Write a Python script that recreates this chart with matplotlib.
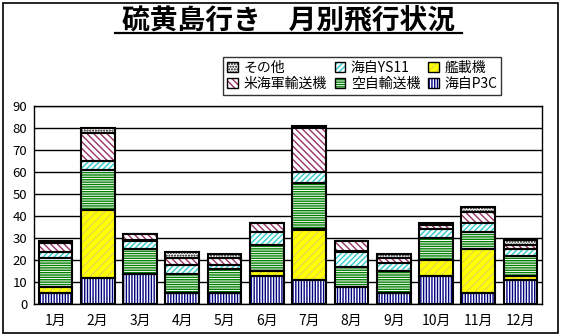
import matplotlib
matplotlib.use("Agg")
import matplotlib.pyplot as plt
import numpy as np
from matplotlib.patches import Patch, Rectangle
from matplotlib.lines import Line2D
from matplotlib.legend_handler import HandlerTuple

plt.rcParams['font.family'] = ['Noto Sans CJK JP', 'DejaVu Sans']
plt.rcParams['hatch.linewidth'] = 1.0

months = ['1月', '2月', '3月', '4月', '5月', '6月', '7月', '8月', '9月', '10月', '11月', '12月']
p3c    = [5, 12, 14, 5, 5, 13, 11, 8, 5, 13, 5, 11]     # 海自P3C
kansai = [3, 31, 0, 0, 0, 2, 23, 0, 0, 7, 20, 2]        # 艦載機
kuji   = [13, 18, 11, 9, 11, 12, 21, 9, 10, 10, 8, 9]   # 空自輸送機
ys11   = [3, 4, 4, 4, 2, 6, 5, 7, 4, 4, 4, 3]           # 海自YS11
beikai = [4, 13, 3, 3, 3, 4, 20, 5, 2, 2, 5, 2]         # 米海軍輸送機
sonota = [1, 2, 0, 3, 2, 0, 1, 0, 2, 1, 2, 2]           # その他

series_names = ['海自P3C', '艦載機', '空自輸送機', '海自YS11', '米海軍輸送機', 'その他']
series_vals = [p3c, kansai, kuji, ys11, beikai, sonota]
yticks = [0, 10, 20, 30, 40, 50, 60, 70, 80, 90]

styles = [
    dict(face='white', hatch='||||||', hc='#000080'),
    dict(face='#FFFF00', hatch='////', hc='#E6D84A'),
    dict(face='white', hatch='-------', hc='#008000'),
    dict(face='white', hatch='//////', hc='#33CCCC'),
    dict(face='white', hatch='\\\\\\\\\\', hc='#993366'),
    dict(face='white', hatch='......', hc='#000000'),
]

fig = plt.figure(figsize=(5.62, 3.36), dpi=100)
ax = fig.add_axes([34.3/562, 1-304.3/336, (541.7-34.3)/562, (304.3-106.3)/336])

x = np.arange(len(months))
bottom = np.zeros(len(months))
handles = []
for name, vals, st in zip(series_names, series_vals, styles):
    v = np.array(vals, dtype=float)
    ax.bar(x, v, bottom=bottom, width=0.8, color=st['face'], hatch=st['hatch'],
           edgecolor=st['hc'], linewidth=0, zorder=2)
    ax.bar(x, v, bottom=bottom, width=0.8, fill=False, edgecolor='black',
           linewidth=1.5, zorder=3)
    handles.append((Patch(facecolor=st['face'], hatch=st['hatch'], edgecolor=st['hc'], linewidth=0),
                    Patch(fill=False, edgecolor='black', linewidth=1.0)))
    bottom = bottom + v

ax.set_xlim(-0.5, len(months) - 0.5)
ax.set_ylim(0, 90)
ax.set_yticks(yticks)
ax.set_xticks(x)
ax.set_xticklabels(months, fontsize=10)
ax.tick_params(axis='y', length=0, pad=5, labelsize=9.5)
ax.tick_params(axis='x', length=0, pad=7)
ax.yaxis.grid(True, color='black', linewidth=1.0)
ax.set_axisbelow(True)
for s in ax.spines.values():
    s.set_color('black')
    s.set_linewidth(1.0)

# legend: reversed order, column-first fill
order = [5, 4, 3, 2, 1, 0]
leg = fig.legend([handles[i] for i in order], [series_names[i] for i in order],
                 handler_map={tuple: HandlerTuple(ndivide=1, pad=0)},
                 ncol=3, loc='upper left', bbox_to_anchor=(223/562, 1-57/336),
                 fontsize=10, frameon=True, fancybox=False, edgecolor='black',
                 handlelength=0.75, handleheight=0.75, handletextpad=0.4,
                 columnspacing=0.6, borderpad=0.3, labelspacing=0.1,
                 borderaxespad=0)
leg.get_frame().set_linewidth(1.0)

# title with underline
fig.text(288.5/562, 1-20/336, '硫黄島行き　月別飛行状況', ha='center', va='center',
         fontsize=20, fontweight='bold')
fig.add_artist(Line2D([115/562, 462/562], [1-33/336, 1-33/336], color='black',
                      linewidth=1.6, transform=fig.transFigure))

# figure border
fig.add_artist(Rectangle((2.5/562, 3/336), 555.5/562, 330/336, fill=False,
                         edgecolor='black', linewidth=1.2, transform=fig.transFigure))

fig.savefig('out.png', dpi=100)
